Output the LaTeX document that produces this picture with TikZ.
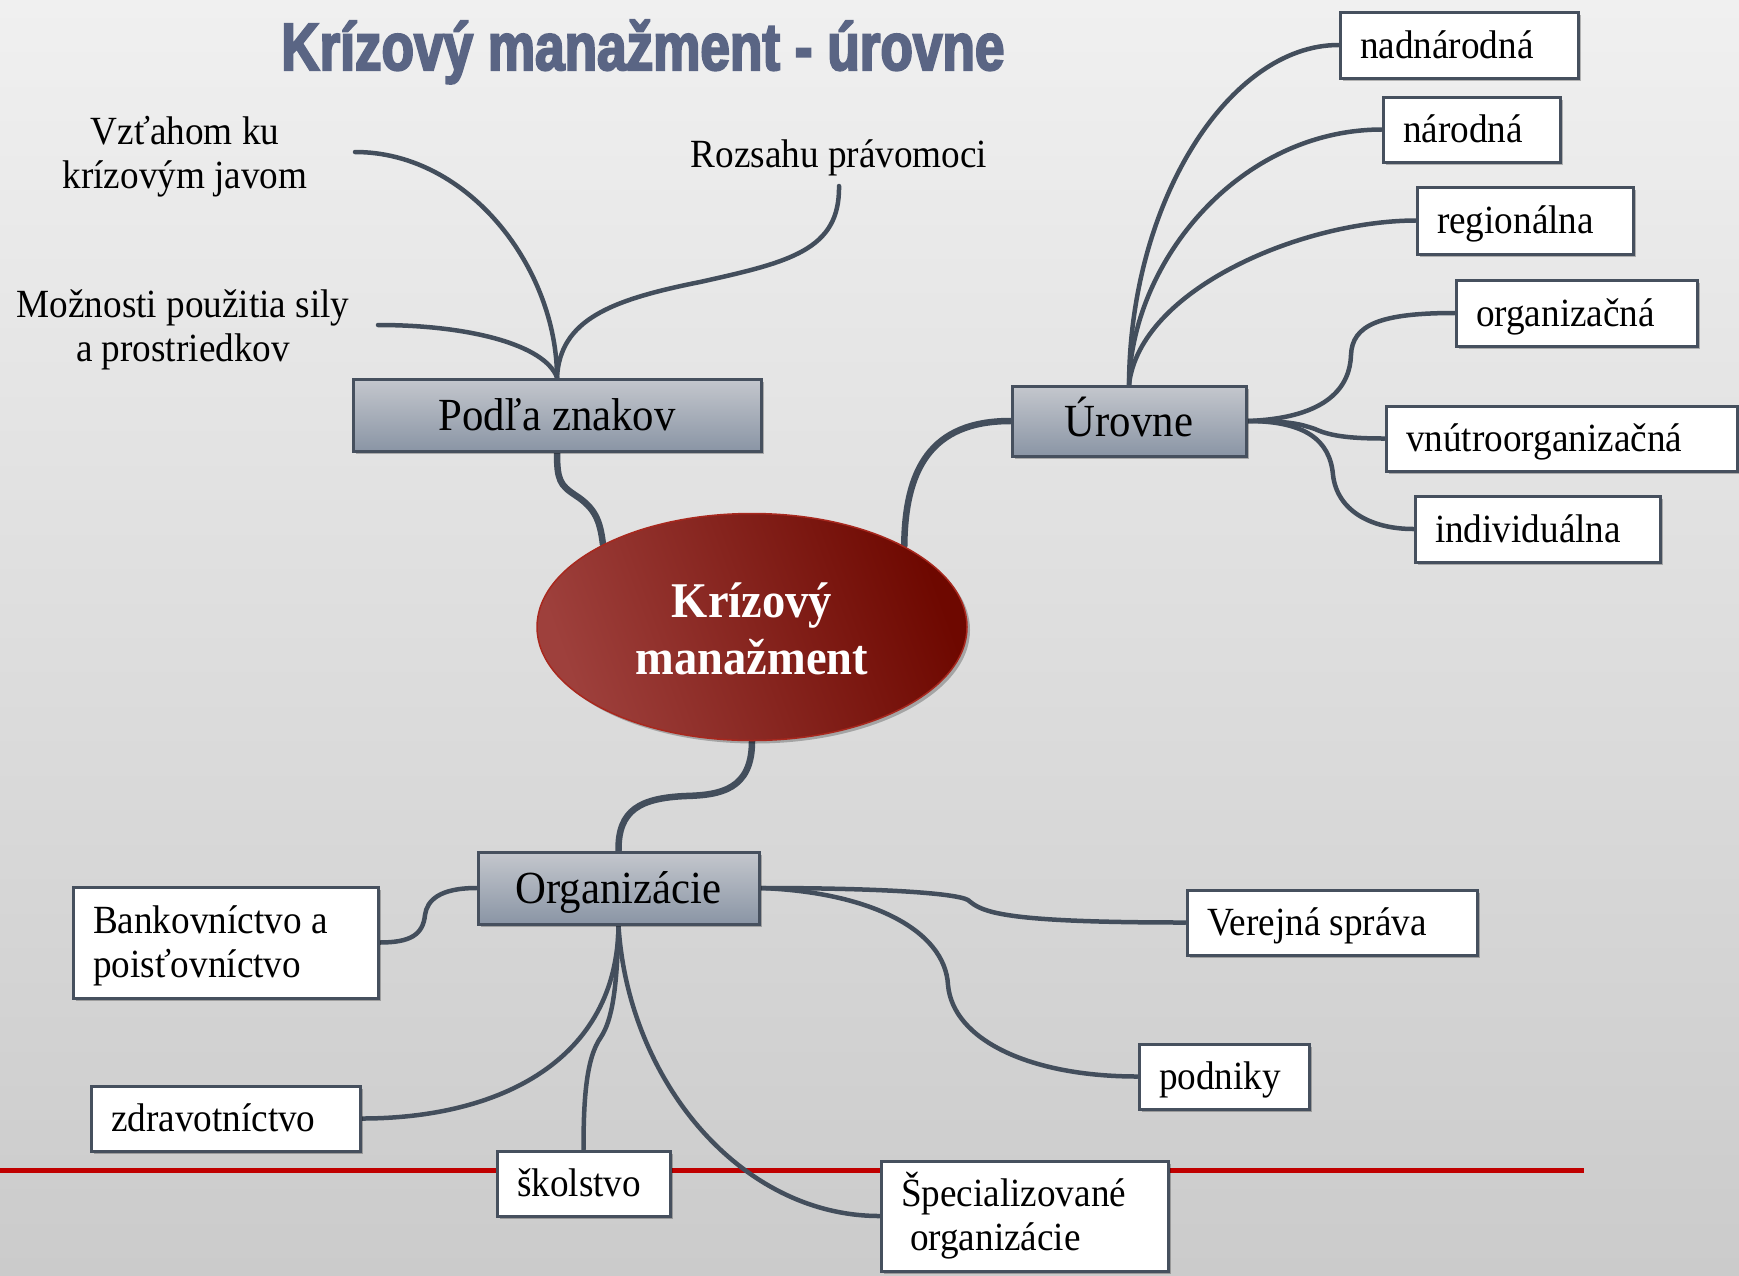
\documentclass[tikz,border=0pt]{standalone}
\usepackage{fontspec}
\setmainfont{Liberation Serif}[FakeStretch=0.93]
\newfontfamily\titlefont{Liberation Sans}[FakeStretch=0.793,FakeBold=3]
\usetikzlibrary{shapes.geometric,shadows}
\pgfdeclarelayer{bgzero}
\pgfdeclarelayer{background}
\pgfsetlayers{bgzero,background,main}
\definecolor{bgtop}{HTML}{F0F0F0}
\definecolor{bgbot}{HTML}{CBCBCB}
\definecolor{titlecol}{HTML}{5A6584}
\definecolor{conncol}{HTML}{434E5C}
\definecolor{bordercol}{HTML}{46505E}
\definecolor{boxtop}{HTML}{C4C7CD}
\definecolor{boxbot}{HTML}{8A95A5}
\definecolor{redline}{HTML}{C00000}
\definecolor{elltop}{HTML}{9E403C}
\definecolor{ellbot}{HTML}{6E0800}
\definecolor{elledge}{HTML}{A8281E}
\begin{document}
\begin{tikzpicture}[x=1pt,y=-1pt,
  conn/.style={draw=conncol, line width=4.5pt, line cap=round},
  mainconn/.style={draw=conncol, line width=6.5pt, line cap=round},
  shad/.style={drop shadow={shadow xshift=3pt, shadow yshift=-3pt, opacity=0.25, fill=black}},
  lvl/.style={draw=bordercol, line width=3pt, top color=boxtop, bottom color=boxbot, inner sep=0pt,
    text height=35pt, text depth=5pt, font=\fontsize{46}{50}\selectfont, shad},
  leafbase/.style={draw=bordercol, line width=3pt, fill=white, inner xsep=20pt, inner ysep=0pt, align=flush left, font=\fontsize{40}{44}\selectfont, shad},
  leaf/.style={leafbase, text height=30pt, text depth=4pt},
  lbl/.style={align=center, font=\fontsize{40}{44}\selectfont, inner sep=0pt}
]
\begin{pgfonlayer}{bgzero}
\useasboundingbox (0,0) rectangle (1739,1275);
\shade[top color=bgtop, bottom color=bgbot] (0,0) rectangle (1739,1275);
\draw[redline, line width=5pt] (0,1170) -- (1584,1170);
\end{pgfonlayer}

% title
\node[anchor=base west, inner sep=0pt, text=titlecol, font=\titlefont\bfseries\fontsize{67}{70}\selectfont] (title) at (281,70) {Krízový manažment - úrovne};

% central node
\node[ellipse, minimum width=430pt, minimum height=227pt, draw=elledge, line width=1.5pt,
  left color=elltop, right color=ellbot, shading angle=110, text=white, align=center, inner sep=0pt,
  font=\bfseries\fontsize{50}{57}\selectfont, shad] (km) at (752,627) {\rule{0pt}{39pt}Krízový\\manažment};

% level 1
\node[lvl, minimum width=408pt, minimum height=72pt] (podla) at (557,415) {Podľa znakov};
\node[lvl, minimum width=234pt, minimum height=70pt] (urovne) at (1129,421) {Úrovne};
\node[lvl, minimum width=281pt, minimum height=72pt] (org) at (618.5,888) {Organizácie};

% free labels
\node[lbl] (vztah) at (185,156.5) {Vzťahom ku\\krízovým javom};
\node[lbl] (rozsah) at (839,157.5) {Rozsahu právomoci};
\node[lbl] (moznosti) at (183,329.5) {Možnosti použitia sily\\a prostriedkov};
\coordinate (vztahend) at (355,152);
\coordinate (moznend) at (378,325);
\coordinate (rozend) at (839,186);

% leaves right
\node[leaf, minimum width=238pt, minimum height=66pt, text width=198pt] (nad) at (1459,45) {nadnárodná};
\node[leaf, minimum width=177pt, minimum height=65pt, text width=137pt] (nar) at (1471.5,129.5) {národná};
\node[leaf, minimum width=216pt, minimum height=67pt, text width=176pt] (reg) at (1525,220.5) {regionálna};
\node[leaf, minimum width=241pt, minimum height=66pt, text width=201pt] (orgn) at (1576.5,313) {organizačná};
\node[leaf, minimum width=351pt, minimum height=65pt, text width=311pt] (vnu) at (1561.5,438.5) {vnútroorganizačná};
\node[leaf, minimum width=245pt, minimum height=66pt, text width=205pt] (ind) at (1537.5,529) {individuálna};

% leaves bottom
\node[leafbase, minimum width=305pt, minimum height=111pt, text width=265pt] (bank) at (225.5,942.5) {\rule{0pt}{34pt}Bankovníctvo a\\poisťovníctvo};
\node[leaf, minimum width=269pt, minimum height=65pt, text width=229pt] (zdr) at (225.5,1118.5) {zdravotníctvo};
\node[leaf, minimum width=173pt, minimum height=65pt, text width=133pt] (skol) at (583.5,1183.5) {školstvo};
\node[leaf, minimum width=290pt, minimum height=65pt, text width=250pt] (ver) at (1332,922.5) {Verejná správa};
\node[leaf, minimum width=170pt, minimum height=65pt, text width=130pt] (pod) at (1224,1076.5) {podniky};
\node[leafbase, minimum width=287pt, minimum height=110pt, text width=247pt] (spec) at (1024.5,1216) {Špecializované\\\hspace*{9pt}organizácie};

\begin{pgfonlayer}{background}
% main branches
\draw[mainconn] (podla.south) .. controls (557,480) and (560,485) .. (575,495) .. controls (595,508) and (600,520) .. (km.151.6);
\draw[mainconn] (urovne.west) .. controls (930,421) and (905,470) .. (km.28);
\draw[mainconn] (km.south) .. controls (752,790) and (720,795) .. (686,796) .. controls (640,798) and (618,810) .. (org.north);
% podla labels
\draw[conn] (vztahend) .. controls (470,152) and (557,270) .. (podla.north);
\draw[conn] (moznend) .. controls (470,325) and (545,345) .. (podla.north);
\draw[conn] (rozend) .. controls (840,250) and (790,262) .. (700,282) .. controls (610,300) and (560,320) .. (podla.north);
% urovne
\draw[conn] (urovne.north) .. controls (1130,200) and (1230,45) .. (nad.west);
\draw[conn] (urovne.north) .. controls (1132,260) and (1240,130) .. (nar.west);
\draw[conn] (urovne.north) .. controls (1140,290) and (1300,221) .. (reg.west);
\draw[conn] (urovne.east) .. controls (1330,418) and (1350,385) .. (1351,355) .. controls (1352,325) and (1380,313) .. (orgn.west);
\draw[conn] (urovne.east) .. controls (1290,421) and (1300,424) .. (1315,429) .. controls (1330,436) and (1350,438.5) .. (vnu.west);
\draw[conn] (urovne.east) .. controls (1305,421) and (1330,440) .. (1333,475) .. controls (1337,510) and (1370,529) .. (ind.west);
% organizacie
\draw[conn] (org.west) .. controls (440,888) and (427,900) .. (425,915) .. controls (423,935) and (410,942.5) .. (bank.east);
\draw[conn] (org.south) .. controls (617,1060) and (500,1118.5) .. (zdr.east);
\draw[conn] (org.south) .. controls (617,990) and (612,1020) .. (601,1037) .. controls (586,1058) and (583.5,1100) .. (skol.north);
\draw[conn] (org.south) .. controls (628,1080) and (740,1216) .. (spec.west);
\draw[conn] (org.east) .. controls (880,888) and (955,893) .. (968,900) .. controls (982,912) and (1000,922.5) .. (ver.west);
\draw[conn] (org.east) .. controls (870,892) and (945,930) .. (948,985) .. controls (953,1040) and (1030,1076.5) .. (pod.west);
\end{pgfonlayer}
\end{tikzpicture}
\end{document}
